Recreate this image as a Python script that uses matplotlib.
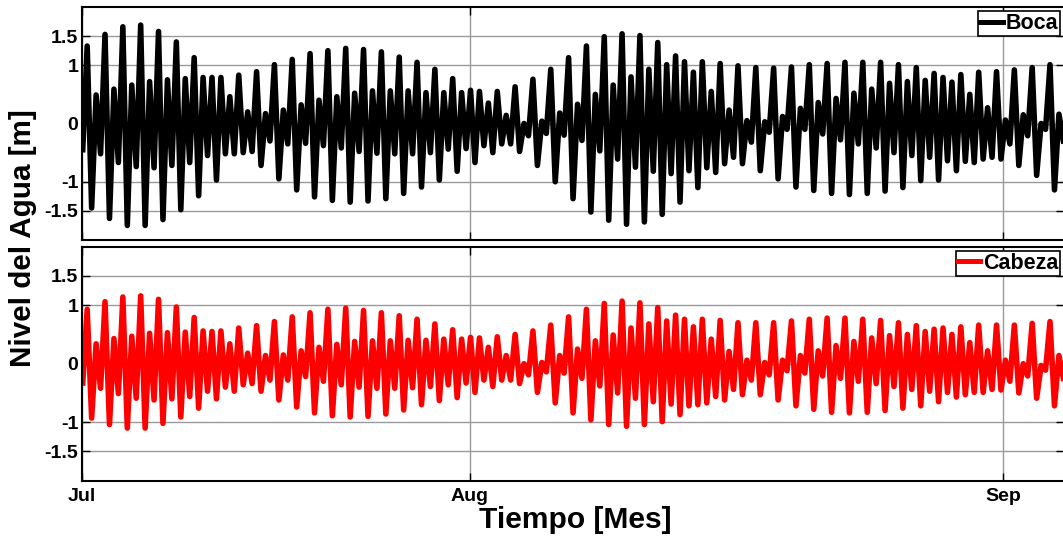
import numpy as np
import matplotlib
matplotlib.use("Agg")
import matplotlib.pyplot as plt

# ---------------- data ----------------
# Successive tidal extrema; lows at even positions, highs at odd positions.
t_start_day = 8.49          # days after 1 July of the first extremum
step_days = 0.2591          # spacing between successive extrema (days)

boca_highs = [
    1.33, 0.49, 1.53, 0.59, 1.66, 0.66, 1.69, 0.72, 1.58, 0.75,
    1.40, 0.77, 1.13, 0.79, 0.79, 0.79, 0.46, 0.83, 0.20, 0.89,
    0.17, 1.01, 0.23, 1.10, 0.32, 1.20, 0.40, 1.25, 0.46, 1.29,
    0.52, 1.27, 0.56, 1.23, 0.56, 1.14, 0.56, 1.05, 0.53, 0.93,
    0.53, 0.77, 0.53, 0.57, 0.55, 0.35, 0.55, 0.14, 0.63, 0.00,
    0.76, 0.04, 0.93, 0.18, 1.13, 0.33, 1.33, 0.50, 1.49, 0.66,
    1.54, 0.80, 1.51, 0.93, 1.39, 1.01, 1.16, 1.06, 0.88, 1.06,
    0.55, 1.03, 0.23, 0.99, 0.05, 0.96, 0.03, 0.95, 0.12, 0.97,
    0.26, 1.01, 0.36, 1.03, 0.43, 1.05, 0.52, 1.05, 0.59, 1.05,
    0.69, 1.01, 0.72, 0.96, 0.74, 0.86, 0.79, 0.71, 0.84, 0.50,
    0.88, 0.27, 0.89, 0.06, 0.92, 0.15, 0.96, 0.00, 1.01, 0.16]
boca_lows = [
    -0.45, -1.45, -0.52, -1.63, -0.67, -1.75, -0.74, -1.75, -0.76, -1.65,
    -0.72, -1.48, -0.67, -1.24, -0.55, -0.97, -0.52, -0.52, -0.50, -0.48,
    -0.72, -0.30, -0.95, -0.35, -1.14, -0.34, -1.26, -0.38, -1.32, -0.42,
    -1.35, -0.48, -1.33, -0.51, -1.29, -0.52, -1.20, -0.52, -1.09, -0.50,
    -0.97, -0.44, -0.82, -0.43, -0.67, -0.38, -0.50, -0.35, -0.35, -0.48,
    -0.21, -0.72, -0.17, -1.00, -0.20, -1.29, -0.29, -1.52, -0.47, -1.66,
    -0.61, -1.73, -0.75, -1.69, -0.82, -1.56, -0.86, -1.35, -0.81, -1.10,
    -0.76, -0.84, -0.69, -0.58, -0.69, -0.32, -0.81, -0.15, -0.95, -0.10,
    -1.09, -0.10, -1.15, -0.18, -1.20, -0.28, -1.22, -0.35, -1.20, -0.42,
    -1.16, -0.50, -1.10, -0.55, -0.98, -0.58, -0.97, -0.64, -0.81, -0.65,
    -0.67, -0.61, -0.58, -0.61, -0.35, -0.72, -0.21, -0.89, -0.10, -1.14,
    -0.30]

cabeza_highs = [
    0.93, 0.34, 1.06, 0.43, 1.14, 0.47, 1.16, 0.52, 1.10, 0.53,
    0.97, 0.54, 0.79, 0.56, 0.55, 0.56, 0.34, 0.61, 0.18, 0.65,
    0.14, 0.72, 0.15, 0.80, 0.22, 0.87, 0.28, 0.93, 0.33, 0.95,
    0.38, 0.91, 0.39, 0.87, 0.39, 0.82, 0.40, 0.76, 0.40, 0.68,
    0.42, 0.58, 0.42, 0.45, 0.44, 0.28, 0.46, 0.14, 0.50, 0.00,
    0.56, 0.02, 0.66, 0.14, 0.80, 0.25, 0.93, 0.39, 1.03, 0.49,
    1.07, 0.61, 1.04, 0.68, 0.96, 0.73, 0.83, 0.76, 0.63, 0.76,
    0.42, 0.74, 0.21, 0.70, 0.06, 0.70, 0.02, 0.70, 0.06, 0.73,
    0.14, 0.76, 0.22, 0.78, 0.31, 0.78, 0.38, 0.76, 0.44, 0.74,
    0.48, 0.70, 0.50, 0.65, 0.55, 0.59, 0.61, 0.50, 0.63, 0.36,
    0.66, 0.22, 0.66, 0.06, 0.66, 0.00, 0.69, -0.03, 0.72, 0.14]
cabeza_lows = [
    -0.33, -0.93, -0.42, -1.04, -0.51, -1.10, -0.59, -1.10, -0.62, -1.02,
    -0.60, -0.91, -0.56, -0.76, -0.47, -0.60, -0.40, -0.47, -0.36, -0.34,
    -0.47, -0.28, -0.62, -0.28, -0.74, -0.22, -0.84, -0.30, -0.89, -0.36,
    -0.91, -0.40, -0.90, -0.42, -0.86, -0.42, -0.79, -0.41, -0.70, -0.39,
    -0.63, -0.36, -0.58, -0.33, -0.49, -0.28, -0.39, -0.28, -0.28, -0.34,
    -0.19, -0.49, -0.14, -0.67, -0.16, -0.84, -0.25, -0.96, -0.38, -1.04,
    -0.50, -1.07, -0.59, -1.04, -0.65, -0.99, -0.69, -0.87, -0.72, -0.70,
    -0.67, -0.56, -0.62, -0.44, -0.53, -0.28, -0.53, -0.19, -0.62, -0.12,
    -0.72, -0.16, -0.78, -0.21, -0.83, -0.25, -0.84, -0.30, -0.83, -0.34,
    -0.80, -0.39, -0.76, -0.44, -0.72, -0.47, -0.65, -0.49, -0.57, -0.53,
    -0.49, -0.49, -0.44, -0.45, -0.30, -0.50, -0.21, -0.59, -0.11, -0.72,
    -0.25]

month_ticks = [8.43, 31.0, 62.0]      # days after 1 July
month_labels = ["Jul", "Aug", "Sep"]
y_ticks = [-1.5, -1, 0, 1, 1.5]
y_labels = ["-1.5", "-1", "0", "1", "1.5"]
series_names = ["Boca", "Cabeza"]
series_colors = ["black", "#ff0000"]


def interleave(lows, highs):
    v = np.empty(len(lows) + len(highs))
    v[0::2] = lows
    v[1::2] = highs
    return v


boca = interleave(boca_lows, boca_highs)
cabeza = interleave(cabeza_lows, cabeza_highs)
t = t_start_day + step_days * np.arange(len(boca))

# ---------------- figure ----------------
plt.rcParams['font.family'] = ['Liberation Sans', 'DejaVu Sans']
plt.rcParams['font.weight'] = 'bold'

fig = plt.figure(figsize=(10.63, 5.37), dpi=100)
ax1 = fig.add_axes([0.07686, 0.55307, 0.92455, 0.43389])
ax2 = fig.add_axes([0.07686, 0.10484, 0.92455, 0.43575])

for ax, vals, name, col in zip([ax1, ax2], [boca, cabeza], series_names, series_colors):
    ax.plot(t, vals, color=col, lw=4.0, label=name, solid_joinstyle='round')
    ax.set_xlim(8.43, 65.557)
    ax.set_ylim(-2, 2)
    ax.set_yticks(y_ticks)
    ax.set_yticklabels(y_labels)
    ax.set_xticks(month_ticks)
    ax.grid(True, color='#9a9a9a', lw=1.0)
    ax.set_axisbelow(True)
    ax.tick_params(direction='in', length=6, width=1, top=True, right=True,
                   labelsize=14, pad=2.5)
    for s in ax.spines.values():
        s.set_linewidth(1.5)
    for lbl in ax.get_yticklabels() + ax.get_xticklabels():
        lbl.set_fontweight('bold')
    leg = ax.legend(loc='upper right', fancybox=False, framealpha=1,
                    edgecolor='black', fontsize=15.5, borderaxespad=0.19,
                    handlelength=1.05, handletextpad=0.12, borderpad=0.1)
    leg.get_frame().set_linewidth(1.2)
    for line in leg.get_lines():
        line.set_linewidth(3.6)
    for txt in leg.get_texts():
        txt.set_fontweight('bold')

ax1.set_xticklabels([])
ax2.set_xticklabels(month_labels)
ax2.tick_params(axis='x', pad=5)

fig.text(0.0212, 1 - 238 / 537, "Nivel del Agua [m]", rotation=90,
         ha='center', va='center', fontsize=21.3, fontweight='bold')
fig.text(575 / 1063, 1 - 527.5 / 537, "Tiempo [Mes]", ha='center',
         va='baseline', fontsize=21.6, fontweight='bold')

fig.savefig("out.png", dpi=100)
